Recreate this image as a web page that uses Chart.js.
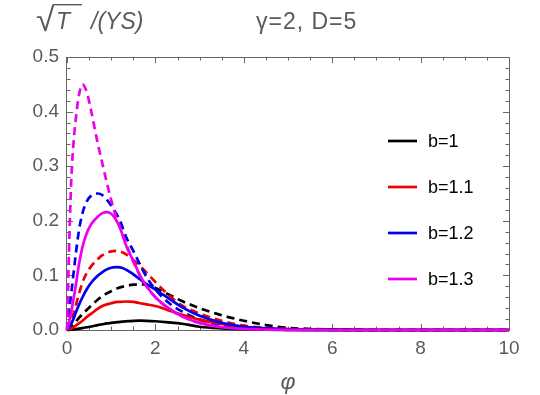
<!DOCTYPE html>
<html>
<head>
<meta charset="utf-8">
<script src="https://cdn.jsdelivr.net/npm/chart.js@4/dist/chart.umd.min.js"></script>
<style>
  html, body { margin: 0; padding: 0; background: #fff; }
</style>
</head>
<body>
<canvas id="chart" width="540" height="395"></canvas>
<script>
// phi grid shared by every curve
const phi = [0, 0.05, 0.1, 0.15, 0.2, 0.27, 0.35, 0.45, 0.55, 0.7, 0.8, 0.9, 1.0, 1.1, 1.2, 1.35,
             1.5, 1.65, 1.8, 2.0, 2.3, 2.6, 3.0, 3.5, 4.0, 4.5, 5.0, 6.0, 7.0, 8.0, 10.0];

// solid curves
const solidB1  = [0, 0.0002, 0.0005, 0.001, 0.0015, 0.0025, 0.0035, 0.005, 0.0065, 0.009, 0.0105, 0.012, 0.013, 0.014, 0.015, 0.016,
                  0.0168, 0.017, 0.0168, 0.016, 0.014, 0.0115, 0.006, 0.003, 0.0015, 0.0008, 0.0004, 0.0001, 0, 0, 0];
const solidB11 = [0, 0.0012, 0.003, 0.005, 0.008, 0.012, 0.017, 0.024, 0.03, 0.039, 0.044, 0.047, 0.049, 0.051, 0.0515, 0.0522,
                  0.0515, 0.049, 0.047, 0.044, 0.036, 0.028, 0.019, 0.011, 0.006, 0.003, 0.0015, 0.0003, 0, 0, 0];
const solidB12 = [0, 0.005, 0.012, 0.021, 0.032, 0.046, 0.06, 0.075, 0.087, 0.1, 0.106, 0.111, 0.114, 0.115, 0.1148, 0.11,
                  0.102, 0.093, 0.084, 0.074, 0.058, 0.042, 0.026, 0.013, 0.006, 0.003, 0.0012, 0.0002, 0, 0, 0];
const solidB13 = [0, 0.015, 0.035, 0.058, 0.082, 0.12, 0.152, 0.178, 0.194, 0.208, 0.214, 0.216, 0.213, 0.203, 0.187, 0.152,
                  0.127, 0.1, 0.08, 0.06, 0.04, 0.025, 0.013, 0.005, 0.002, 0.0008, 0.0003, 0, 0, 0, 0];

// dashed curves
const dashB1  = [0, 0.003, 0.006, 0.01, 0.015, 0.022, 0.029, 0.037, 0.045, 0.056, 0.062, 0.067, 0.071, 0.075, 0.078, 0.081,
                 0.083, 0.084, 0.082, 0.077, 0.065, 0.053, 0.04, 0.027, 0.017, 0.009, 0.004, 0.001, 0, 0, 0];
const dashB11 = [0, 0.007, 0.016, 0.03, 0.045, 0.066, 0.087, 0.105, 0.117, 0.13, 0.137, 0.141, 0.144, 0.145, 0.144, 0.138,
                 0.128, 0.117, 0.105, 0.088, 0.064, 0.045, 0.03, 0.017, 0.008, 0.004, 0.002, 0.0004, 0, 0, 0];
const dashB12 = [0, 0.035, 0.07, 0.105, 0.14, 0.182, 0.214, 0.236, 0.246, 0.25, 0.247, 0.239, 0.228, 0.215, 0.2, 0.168,
                 0.145, 0.12, 0.097, 0.074, 0.05, 0.034, 0.019, 0.009, 0.004, 0.0016, 0.0006, 0.0001, 0, 0, 0];
const dashB13 = [0, 0.16, 0.28, 0.345, 0.387, 0.43, 0.45, 0.435, 0.40, 0.34, 0.305, 0.27, 0.238, 0.21, 0.188, 0.155,
                 0.125, 0.1, 0.08, 0.06, 0.039, 0.025, 0.013, 0.005, 0.002, 0.0008, 0.0003, 0, 0, 0, 0];

const legendLabels = ['b=1', 'b=1.1', 'b=1.2', 'b=1.3'];
const colors = ['#000000', '#ee0000', '#0000ee', '#ee00ee'];
const xTicks = [0, 2, 4, 6, 8, 10];
const yTicks = [0, 0.1, 0.2, 0.3, 0.4, 0.5];

const AXIS_GRAY = '#666666';
const LABEL_GRAY = '#5a5a5a';
const FONT = '"Liberation Sans", Arial, sans-serif';

function pairs(ys) {
  return phi.map((x, i) => ({ x: x, y: ys[i] }));
}

function line(ys, color, dashed) {
  return {
    data: pairs(ys),
    borderColor: color,
    borderWidth: 2.7,
    borderDash: dashed ? [8, 5] : [],
    pointRadius: 0,
    fill: false,
    cubicInterpolationMode: 'monotone',
    clip: { left: 2, right: 0, top: 0, bottom: 3 }
  };
}

// first dataset ends on top
const datasets = [
  line(solidB13, colors[3], false),
  line(solidB12, colors[2], false),
  line(solidB11, colors[1], false),
  line(solidB1, colors[0], false),
  line(dashB13, colors[3], true),
  line(dashB12, colors[2], true),
  line(dashB11, colors[1], true),
  line(dashB1, colors[0], true)
];

// radical sign sized so its top sits at the overline
function drawRadical(ctx, x, baseline, top) {
  ctx.font = '100px ' + FONT;
  const m = ctx.measureText('\u221A');
  const asc = m.actualBoundingBoxAscent || 80;
  const size = (baseline - top) / asc * 100;
  ctx.font = size.toFixed(1) + 'px ' + FONT;
  const m2 = ctx.measureText('\u221A');
  ctx.fillText('\u221A', x, baseline);
  return x + (m2.actualBoundingBoxRight || m2.width);
}

// frame with inward ticks on all four sides
const framePlugin = {
  id: 'frame',
  beforeDatasetsDraw(chart) {
    const { ctx, chartArea: a, scales: { x, y } } = chart;
    ctx.save();
    ctx.strokeStyle = AXIS_GRAY;
    ctx.lineWidth = 1;
    ctx.strokeRect(Math.round(a.left) - 0.5, Math.round(a.top) + 0.5,
                   Math.round(a.right - a.left) + 1, Math.round(a.bottom - a.top));
    ctx.beginPath();
    for (let i = 0; i <= 20; i++) {
      const v = i * 0.5;
      const px = Math.round(x.getPixelForValue(v)) + 0.5;
      const len = (i % 4 === 0) ? 6 : 3.5;
      ctx.moveTo(px, a.bottom); ctx.lineTo(px, a.bottom - len);
      ctx.moveTo(px, a.top); ctx.lineTo(px, a.top + len);
    }
    for (let i = 0; i <= 25; i++) {
      const v = i * 0.02;
      const py = Math.round(y.getPixelForValue(v)) + 0.5;
      const len = (i % 5 === 0) ? 6 : 3.5;
      ctx.moveTo(a.left, py); ctx.lineTo(a.left + len, py);
      ctx.moveTo(a.right, py); ctx.lineTo(a.right - len, py);
    }
    ctx.stroke();
    ctx.restore();
  },
  afterDraw(chart) {
    const ctx = chart.ctx;
    ctx.save();
    ctx.fillStyle = LABEL_GRAY;
    ctx.strokeStyle = LABEL_GRAY;
    ctx.textBaseline = 'alphabetic';

    // top-left label: sqrt(T)/(YS)
    const rEnd = drawRadical(ctx, 36, 31, 4);
    ctx.lineWidth = 1.4;
    ctx.beginPath();
    ctx.moveTo(rEnd - 1, 4.7); ctx.lineTo(82, 4.7);
    ctx.stroke();
    ctx.font = 'italic 23px ' + FONT;
    ctx.fillText('T', 56, 29);
    ctx.fillText('/(YS)', 91, 29);

    // parameters
    ctx.font = '23px ' + FONT;
    if ('letterSpacing' in ctx) ctx.letterSpacing = '1px';
    ctx.fillText('\u03B3=2, D=5', 256, 29);
    if ('letterSpacing' in ctx) ctx.letterSpacing = '0px';

    // x axis label
    ctx.font = 'italic 23px ' + FONT;
    ctx.textAlign = 'center';
    ctx.fillText('\u03C6', 288, 389);

    // legend
    ctx.textAlign = 'left';
    ctx.textBaseline = 'middle';
    ctx.font = '18px ' + FONT;
    legendLabels.forEach((lab, i) => {
      const yy = 141 + i * 46;
      ctx.strokeStyle = colors[i];
      ctx.lineWidth = 2.7;
      ctx.beginPath();
      ctx.moveTo(388, yy); ctx.lineTo(417, yy);
      ctx.stroke();
      ctx.fillStyle = '#000';
      ctx.fillText(lab, 428, yy + 1);
    });
    ctx.restore();
  }
};

new Chart(document.getElementById('chart'), {
  type: 'line',
  data: { datasets: datasets },
  options: {
    responsive: false,
    animation: false,
    layout: { padding: { top: 57, right: 31, left: 0, bottom: 0 } },
    plugins: { legend: { display: false }, tooltip: { enabled: false } },
    scales: {
      x: {
        type: 'linear',
        min: 0, max: 10,
        afterFit(scale) { scale.height = 65; },
        afterBuildTicks(scale) { scale.ticks = xTicks.map(v => ({ value: v })); },
        grid: { display: false, drawTicks: false },
        border: { display: false },
        ticks: {
          padding: 7,
          color: LABEL_GRAY,
          font: { family: FONT, size: 19 },
          callback: v => String(v)
        }
      },
      y: {
        type: 'linear',
        min: 0, max: 0.5,
        afterFit(scale) { scale.width = 67; },
        afterBuildTicks(scale) { scale.ticks = yTicks.map(v => ({ value: v })); },
        grid: { display: false, drawTicks: false },
        border: { display: false },
        ticks: {
          padding: 8,
          color: LABEL_GRAY,
          font: { family: FONT, size: 19 },
          callback: v => v.toFixed(1)
        }
      }
    }
  },
  plugins: [framePlugin]
});
</script>
</body>
</html>
